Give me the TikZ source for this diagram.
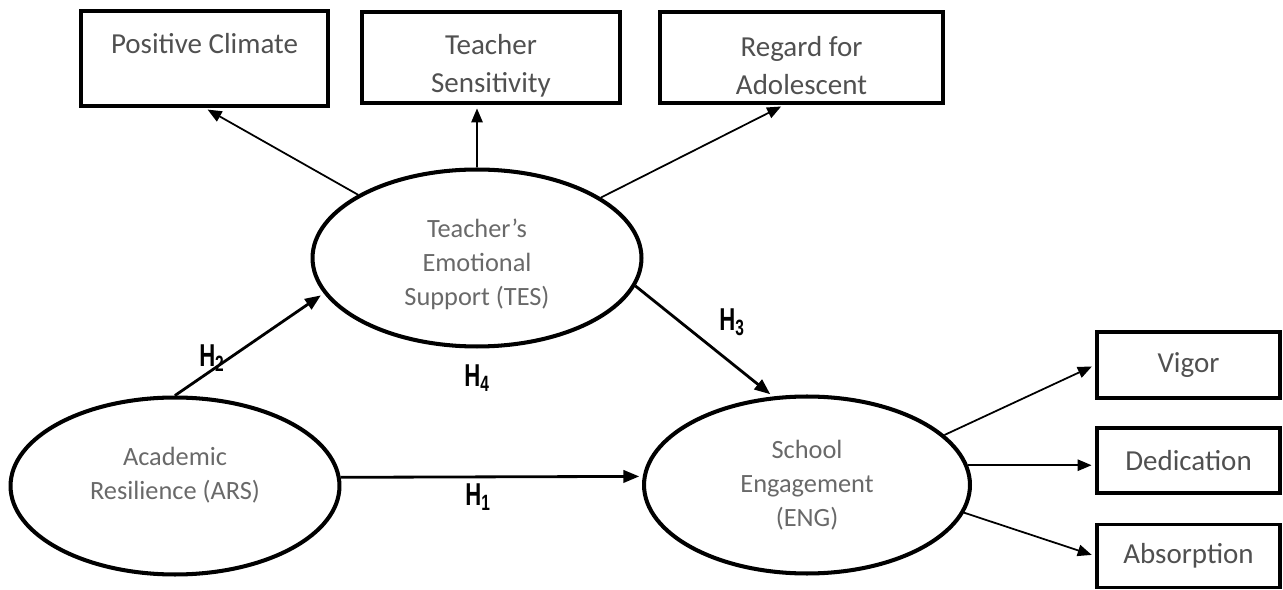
\documentclass[tikz,border=0pt]{standalone}
\usepackage{fontspec}
\setmainfont{Carlito}
\newfontfamily\hypfont[FakeStretch=0.7]{Liberation Sans}
\usetikzlibrary{shapes, arrows.meta, positioning}
\definecolor{boxtext}{RGB}{80, 80, 80}
\definecolor{lattext}{RGB}{105, 105, 105}

\begin{document}
\begin{tikzpicture}[x=0.02cm, y=-0.02cm,
  indicator/.style={draw, line width=2.2pt, align=center, text=boxtext,
                    font={\fontsize{16.5}{21.5}\selectfont}, inner sep=2pt},
  latent/.style={draw, ellipse, line width=2.3pt, align=center, text=lattext,
                 font={\fontsize{15}{19.5}\selectfont},
                 minimum width=6.58cm, minimum height=3.54cm},
  hyp/.style={font={\hypfont\bfseries\fontsize{18}{20}\selectfont}},
  load/.style={-{Triangle[length=8pt, width=6.5pt]}, line width=1pt, shorten >=2pt},
  effect/.style={-{Triangle[length=9pt, width=7pt]}, line width=1.6pt, shorten >=2pt},
]
\useasboundingbox (0,0) rectangle (1283,590);

% Indicators of TES
\node[indicator, minimum width=4.94cm, minimum height=1.86cm] (pc) at (204.5, 58.5)
{\rule{0pt}{22pt}Positive Climate\\\strut};
\node[indicator, minimum width=5.16cm, minimum height=1.82cm] (ts) at (491, 57.5)
{\rule{0pt}{21pt}Teacher\\Sensitivity};
\node[indicator, minimum width=5.66cm, minimum height=1.82cm] (rg) at (801.5, 57.5)
{\rule{0pt}{21pt}Regard for\\Adolescent};

% Latent variables
\node[latent] (tes) at (477, 258) {\rule{0pt}{18pt}Teacher's\\Emotional\\Support (TES)};
\node[latent] (ars) at (175, 486) {Academic\\Resilience (ARS)\\[-5pt]\mbox{}};
\node[latent, minimum width=6.52cm] (eng) at (807, 485) {School\\Engagement\\(ENG)};

% Indicators of ENG
\node[indicator, minimum width=3.66cm, minimum height=1.32cm] (vg) at (1188.5, 365) {Vigor};
\node[indicator, minimum width=3.66cm, minimum height=1.3cm] (dd) at (1188.5, 460.5) {Dedication};
\node[indicator, minimum width=3.66cm, minimum height=1.26cm] (ab) at (1188.5, 556) {Absorption};

% Hypotheses
\node[hyp] (h1) at (478, 497) {H\textsubscript{1}};
\node[hyp] (h2) at (212, 358) {H\textsubscript{2}};
\node[hyp] (h3) at (732, 322) {H\textsubscript{3}};
\node[hyp] (h4) at (477, 378) {H\textsubscript{4}};

% Arrows
\draw[load] (tes.152) -- (pc.south);
\draw[load] (tes.north) -- (tes.north |- ts.south);
\draw[load] (tes.26) -- (rg.250);
\draw[effect] (ars.north) -- (tes.193);
\draw[effect] (ars.3) -- (eng.177);
\draw[effect] (tes.350) -- (eng.111);
\draw[load] (eng.20) -- (vg.west);
\draw[load] (eng.7) -- (eng.7 -| dd.west);
\draw[load] (eng.350) -- (ab.west);
\end{tikzpicture}
\end{document}
